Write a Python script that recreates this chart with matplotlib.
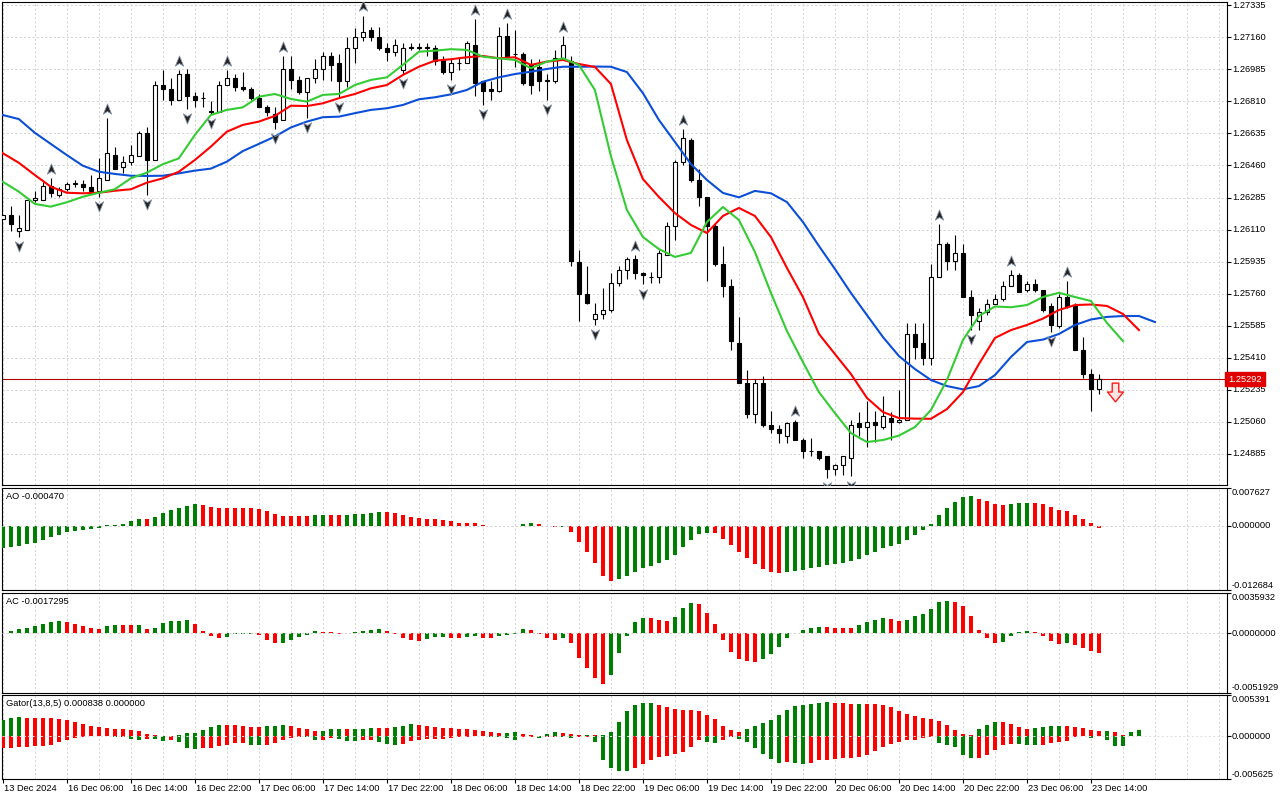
import numpy as np
import matplotlib
matplotlib.use("Agg")
import matplotlib.pyplot as plt
from matplotlib.path import Path

plt.rcParams['font.family'] = ['Liberation Sans', 'DejaVu Sans']

# H1 candles, bar 0 = 13 Dec 22:00 ... bar 137 = 23 Dec 15:00
opens = [
    1.2617, 1.2619, 1.2610, 1.2611, 1.2627, 1.2627, 1.2635, 1.2630, 1.2633, 1.2636,
    1.2636, 1.2634, 1.2632, 1.2638, 1.2652, 1.2645, 1.2648, 1.2651, 1.2664, 1.2649,
    1.2690, 1.2688, 1.2682, 1.2696, 1.2684, 1.2683, 1.2676, 1.2675, 1.2690, 1.2694,
    1.2689, 1.2688, 1.2683, 1.2678, 1.2674, 1.2671, 1.2699, 1.2693, 1.2686, 1.2694,
    1.2699, 1.2706, 1.2702, 1.2692, 1.2710, 1.2716, 1.2720, 1.2716, 1.2710, 1.2708,
    1.2698, 1.2711, 1.2710, 1.2711, 1.2710, 1.2704, 1.2697, 1.2702, 1.2702, 1.2712,
    1.2692, 1.2688, 1.2687, 1.2717, 1.2707, 1.2707, 1.2701, 1.2700, 1.2692, 1.2692,
    1.2705, 1.2703, 1.2593, 1.2576, 1.2562, 1.2565, 1.2567, 1.2582, 1.2589, 1.2595,
    1.2587, 1.2585, 1.2585, 1.2597, 1.2613, 1.2648, 1.2660, 1.2638, 1.2629, 1.2613,
    1.2592, 1.2580, 1.2549, 1.2527, 1.2510, 1.2527, 1.2504, 1.2502, 1.2498, 1.2506,
    1.2496, 1.2490, 1.2490, 1.2487, 1.2480, 1.2482, 1.2486, 1.2505, 1.2503, 1.2506,
    1.2503, 1.2508, 1.2506, 1.2507, 1.2554, 1.2549, 1.2541, 1.2585, 1.2603, 1.2594,
    1.2598, 1.2574, 1.2561, 1.2566, 1.2570, 1.2573, 1.2580, 1.2586, 1.2578, 1.2581,
    1.2578, 1.2569, 1.2558, 1.2574, 1.2569, 1.2545, 1.2532, 1.2524]
highs = [
    1.2619, 1.2624, 1.2619, 1.2627, 1.2632, 1.2637, 1.2639, 1.2634, 1.2637, 1.2638,
    1.2638, 1.2641, 1.2650, 1.2672, 1.2656, 1.2651, 1.2657, 1.2665, 1.2667, 1.2692,
    1.2698, 1.2694, 1.2698, 1.2699, 1.2686, 1.2686, 1.2681, 1.2692, 1.2698, 1.2696,
    1.2697, 1.2689, 1.2685, 1.2679, 1.2678, 1.2706, 1.2706, 1.2695, 1.2694, 1.2704,
    1.2708, 1.2708, 1.2707, 1.2716, 1.2721, 1.2728, 1.2722, 1.2722, 1.2713, 1.2715,
    1.2713, 1.2713, 1.2713, 1.2713, 1.2712, 1.2706, 1.2704, 1.2705, 1.2714, 1.2726,
    1.2692, 1.2692, 1.2722, 1.2724, 1.2720, 1.2708, 1.2704, 1.2704, 1.2696, 1.2709,
    1.2717, 1.2706, 1.2600, 1.2591, 1.2571, 1.2579, 1.2587, 1.2591, 1.2596, 1.2597,
    1.2588, 1.2588, 1.2600, 1.2615, 1.2649, 1.2666, 1.2661, 1.2644, 1.2629, 1.2614,
    1.2602, 1.2584, 1.2563, 1.2534, 1.2529, 1.2531, 1.2512, 1.2504, 1.2506, 1.2507,
    1.2497, 1.2497, 1.2490, 1.2487, 1.2483, 1.2487, 1.2507, 1.2511, 1.2517, 1.2512,
    1.2520, 1.2511, 1.2523, 1.2560, 1.2560, 1.2560, 1.2592, 1.2614, 1.2604, 1.2608,
    1.2603, 1.2578, 1.2568, 1.2573, 1.2576, 1.2583, 1.2589, 1.2587, 1.2583, 1.2584,
    1.2578, 1.2571, 1.2576, 1.2583, 1.2571, 1.2552, 1.2535, 1.2532]
lows = [
    1.2617, 1.2610, 1.2607, 1.2611, 1.2626, 1.2627, 1.2629, 1.2629, 1.2632, 1.2634,
    1.2632, 1.2632, 1.2629, 1.2638, 1.2644, 1.2642, 1.2646, 1.2651, 1.2630, 1.2649,
    1.2682, 1.2679, 1.2682, 1.2677, 1.2678, 1.2678, 1.2674, 1.2675, 1.2690, 1.2687,
    1.2687, 1.2682, 1.2678, 1.2673, 1.2666, 1.2671, 1.2688, 1.2685, 1.2672, 1.2691,
    1.2693, 1.2692, 1.2683, 1.2689, 1.2702, 1.2714, 1.2714, 1.2709, 1.2703, 1.2706,
    1.2696, 1.2709, 1.2709, 1.2706, 1.2701, 1.2696, 1.2693, 1.2698, 1.2702, 1.2684,
    1.2679, 1.2682, 1.2686, 1.2706, 1.2700, 1.2690, 1.2685, 1.2687, 1.2682, 1.2691,
    1.2704, 1.2591, 1.2561, 1.2570, 1.2559, 1.2562, 1.2566, 1.2580, 1.2584, 1.2584,
    1.2581, 1.2582, 1.2582, 1.2597, 1.2605, 1.2646, 1.2637, 1.2624, 1.2583, 1.2591,
    1.2574, 1.2545, 1.2527, 1.2508, 1.2505, 1.2503, 1.2500, 1.2494, 1.2494, 1.2496,
    1.2486, 1.2487, 1.2485, 1.2475, 1.2477, 1.2477, 1.2476, 1.2498, 1.2492, 1.2495,
    1.2502, 1.2496, 1.2505, 1.2507, 1.2540, 1.2537, 1.2537, 1.2585, 1.2589, 1.2589,
    1.2574, 1.2556, 1.2556, 1.2564, 1.2570, 1.2572, 1.2580, 1.2577, 1.2577, 1.2577,
    1.2566, 1.2555, 1.2557, 1.2568, 1.2545, 1.2530, 1.2512, 1.2521]
closes = [
    1.2619, 1.2614, 1.2612, 1.2627, 1.2628, 1.2635, 1.2631, 1.2633, 1.2636, 1.26365,
    1.2634, 1.2632, 1.2639, 1.2653, 1.2644, 1.2648, 1.2652, 1.2664, 1.2649, 1.2690,
    1.2688, 1.2682, 1.2696, 1.2684, 1.2682, 1.2683, 1.2675, 1.2690, 1.2694, 1.2689,
    1.2688, 1.2683, 1.2678, 1.2675, 1.2670, 1.2699, 1.2693, 1.2686, 1.2694, 1.2699,
    1.2706, 1.2701, 1.2692, 1.2710, 1.2716, 1.2719, 1.2716, 1.2710, 1.2708, 1.2712,
    1.2710, 1.2710, 1.2711, 1.2710, 1.2703, 1.2697, 1.2702, 1.2702, 1.2713, 1.2691,
    1.2687, 1.2687, 1.2717, 1.2706, 1.2707, 1.2691, 1.2690, 1.2692, 1.2693, 1.2705,
    1.2712, 1.2594, 1.2576, 1.2571, 1.2565, 1.2567, 1.2582, 1.2589, 1.2595, 1.2587,
    1.2586, 1.2585, 1.2598, 1.2613, 1.2648, 1.2661, 1.2638, 1.2629, 1.2613, 1.2592,
    1.2580, 1.2550, 1.2527, 1.2510, 1.2527, 1.2504, 1.2502, 1.2500, 1.2505, 1.2496,
    1.2490, 1.2490, 1.2486, 1.2480, 1.2482, 1.2487, 1.2504, 1.2503, 1.2506, 1.2504,
    1.2509, 1.2506, 1.2507, 1.2554, 1.2547, 1.2541, 1.2585, 1.2603, 1.2594, 1.2598,
    1.2574, 1.2564, 1.2566, 1.2570, 1.2573, 1.2580, 1.2586, 1.2577, 1.2581, 1.2578,
    1.2567, 1.2559, 1.2574, 1.2569, 1.2545, 1.2532, 1.2524, 1.25292]

# alligator lines (shifted, as drawn), read every second bar
line_bars = list(range(0, 146, 2))
jaw = [
    1.26736, 1.26714, 1.26639, 1.26578, 1.26517, 1.26459, 1.26426, 1.26414, 1.26404, 1.26403,
    1.26404, 1.26417, 1.26432, 1.26443, 1.26481, 1.26539, 1.26578, 1.26618, 1.26668, 1.26700,
    1.26724, 1.26727, 1.26746, 1.26764, 1.26773, 1.26791, 1.26822, 1.26833, 1.26849, 1.26873,
    1.26918, 1.26942, 1.26960, 1.26973, 1.26988, 1.27000, 1.27000, 1.27001, 1.27000, 1.26971,
    1.26856, 1.26709, 1.26589, 1.26468, 1.26381, 1.26310, 1.26286, 1.26321, 1.26308, 1.26260,
    1.26151, 1.26020, 1.25894, 1.25763, 1.25642, 1.25522, 1.25418, 1.25347, 1.25287, 1.25254,
    1.25236, 1.25254, 1.25314, 1.25413, 1.25495, 1.25508, 1.25539, 1.25588, 1.25618, 1.25632,
    1.25637, 1.25637, 1.25604]
teeth = [
    1.26527, 1.26475, 1.26408, 1.26344, 1.26311, 1.26308, 1.26311, 1.26322, 1.26330, 1.26366,
    1.26390, 1.26426, 1.26490, 1.26563, 1.26645, 1.26682, 1.26700, 1.26731, 1.26787, 1.26785,
    1.26800, 1.26828, 1.26851, 1.26882, 1.26900, 1.26955, 1.27000, 1.27033, 1.27041, 1.27052,
    1.27059, 1.27046, 1.27052, 1.27010, 1.27028, 1.27037, 1.27015, 1.26999, 1.26906, 1.26599,
    1.26386, 1.26288, 1.26200, 1.26135, 1.26091, 1.26184, 1.26228, 1.26184, 1.26069, 1.25900,
    1.25741, 1.25539, 1.25429, 1.25320, 1.25189, 1.25112, 1.25079, 1.25076, 1.25075, 1.25128,
    1.25221, 1.25375, 1.25517, 1.25560, 1.25588, 1.25623, 1.25670, 1.25697, 1.25700, 1.25692,
    1.25648, 1.25560, np.nan]
lips = [
    1.26371, 1.26317, 1.26250, 1.26235, 1.26259, 1.26289, 1.26311, 1.26330, 1.26390, 1.26421,
    1.26467, 1.26499, 1.26627, 1.26736, 1.26764, 1.26778, 1.26836, 1.26851, 1.26824, 1.26809,
    1.26846, 1.26851, 1.26900, 1.26928, 1.26942, 1.27010, 1.27082, 1.27088, 1.27096, 1.27092,
    1.27055, 1.27046, 1.27037, 1.26992, 1.27028, 1.27046, 1.27010, 1.26873, 1.26512, 1.26217,
    1.26069, 1.26003, 1.25960, 1.25982, 1.26151, 1.26233, 1.26162, 1.25987, 1.25763, 1.25555,
    1.25385, 1.25221, 1.25106, 1.24997, 1.24948, 1.24959, 1.24983, 1.25030, 1.25123, 1.25287,
    1.25506, 1.25637, 1.25689, 1.25685, 1.25697, 1.25741, 1.25764, 1.25741, 1.25719, 1.25599,
    1.25500, np.nan, np.nan]

up_fractals = [6, 13, 22, 28, 35, 45, 59, 63, 70, 79, 85, 99, 117, 126, 133]
down_fractals = [2, 12, 18, 23, 26, 34, 38, 42, 50, 56, 60, 68, 74, 80, 103, 106, 121, 131]
signal_bar, signal_price = 139, 1.2522
last_price = 1.25292

# indicator values in units of 1e-4
ao_x1e4 = [
    -43.2, -41.8, -39.8, -36.5, -33.2, -27.2, -21.9, -17.3, -12.0, -9.3,
    -7.3, -6.0, -3.3, 1.0, 2.7, 4.6, 9.3, 14.6, 13.9, 17.9,
    25.9, 32.5, 35.9, 39.8, 44.5, 42.5, 37.8, 35.9, 35.5, 35.2,
    35.0, 34.8, 33.9, 29.9, 24.6, 19.9, 19.8, 19.7, 19.5, 21.9,
    22.0, 21.9, 21.8, 22.0, 23.9, 24.1, 26.6, 27.9, 27.8, 25.9,
    21.9, 17.9, 15.9, 13.9, 13.8, 12.0, 10.0, 6.0, 5.9, 5.7,
    2.0, -0.3, 0.3, 0.7, 0.8, 4.0, 6.0, 4.0, 0.7, -2.0,
    -1.3, -12.0, -31.9, -51.8, -73.7, -99.6, -109.6, -105.6, -99.6, -91.6,
    -83.7, -79.7, -73.7, -67.7, -57.8, -41.8, -27.9, -15.9, -13.9, -14.3,
    -25.9, -37.8, -51.8, -63.7, -75.7, -85.7, -91.6, -93.6, -91.6, -89.6,
    -87.6, -83.7, -81.7, -77.7, -75.7, -73.7, -69.7, -65.7, -57.8, -51.8,
    -43.8, -39.8, -35.9, -27.9, -17.9, -8.0, 4.0, 21.9, 35.9, 47.8,
    57.8, 59.8, 53.8, 49.8, 43.8, 41.8, 43.8, 45.8, 45.9, 45.8,
    43.8, 37.8, 31.9, 29.9, 21.9, 13.9, 6.0, -4.7]
ac_x1e4 = [
    0.6, 1.8, 3.8, 4.7, 6.4, 8.2, 9.7, 10.5, 10.4, 8.2,
    6.2, 4.4, 4.3, 6.4, 7.3, 7.2, 7.1, 7.3, 3.5, 4.7,
    9.1, 10.5, 10.6, 11.7, 8.2, 1.8, -2.3, -4.1, -2.9, -0.9,
    -0.6, -0.3, -1.5, -5.9, -8.5, -8.2, -5.9, -3.2, -1.5, 1.8,
    1.6, 0.9, -0.3, 0.0, 0.9, 1.8, 2.6, 3.5, 1.8, -0.3,
    -4.1, -5.9, -6.7, -5.0, -3.2, -3.1, -4.1, -4.2, -3.2, -2.3,
    -4.1, -4.2, -2.3, -1.5, -0.3, 3.5, 3.4, -0.3, -4.1, -5.9,
    -4.1, -8.5, -21.7, -30.5, -39.3, -44.5, -36.6, -17.3, -2.1, 9.7,
    13.2, 13.1, 11.4, 11.3, 14.1, 22.0, 26.4, 25.5, 17.6, 7.9,
    -5.9, -16.4, -22.6, -24.3, -25.2, -22.6, -18.2, -12.0, -4.1, 0.6,
    2.6, 4.4, 5.3, 5.2, 5.1, 5.0, 4.9, 7.0, 9.7, 11.4,
    13.2, 12.3, 10.5, 11.4, 14.9, 16.7, 21.1, 27.2, 28.1, 27.2,
    23.7, 14.9, 2.6, -4.1, -8.5, -7.6, -2.3, 0.9, 1.8, 0.9,
    -2.3, -6.7, -9.4, -8.5, -10.3, -12.9, -15.5, -17.295]
gator_up_x1e4 = [
    21.4, 24.0, 25.3, 24.0, 23.9, 23.8, 23.7, 22.7, 21.4, 18.8,
    16.2, 13.5, 12.2, 10.9, 9.6, 9.5, 8.3, 7.0, 3.1, 1.7,
    0.4, 0.3, 1.3, 3.9, 4.0, 8.3, 12.2, 14.9, 14.8, 14.7,
    13.5, 12.2, 12.1, 13.5, 13.6, 14.9, 13.5, 10.9, 9.6, 7.0,
    7.1, 9.6, 9.7, 9.6, 9.7, 9.8, 10.9, 10.8, 10.7, 12.2,
    13.5, 16.2, 14.9, 13.5, 12.2, 10.9, 10.8, 9.6, 9.5, 8.3,
    7.0, 5.7, 4.4, 4.5, 5.7, 3.1, 1.3, 0.4, 3.1, 5.7,
    4.4, 3.1, 1.7, 1.8, 0.9, 1.7, 5.7, 18.8, 33.2, 41.1,
    43.7, 43.8, 41.1, 38.5, 35.8, 34.5, 34.4, 33.2, 28.0, 22.7,
    13.5, 8.3, 5.7, 9.6, 13.5, 17.5, 21.4, 28.0, 34.5, 39.8,
    41.1, 42.4, 43.7, 45.0, 43.7, 43.6, 42.4, 42.5, 42.4, 42.3,
    41.1, 38.5, 33.2, 29.3, 26.7, 24.0, 22.7, 20.1, 14.9, 8.3,
    3.1, 1.7, 9.6, 14.9, 18.8, 18.7, 16.2, 12.2, 9.6, 10.9,
    12.2, 13.5, 13.6, 13.5, 12.2, 10.9, 8.3, 7.0, 7.1, 5.7,
    1.7, 5.7, 8.38]
gator_down_x1e4 = [
    15.3, 15.2, 14.4, 14.3, 13.5, 12.7, 11.8, 7.9, 4.8, 3.1,
    1.3, 0.4, 0.5, 0.2, 1.7, 0.9, 4.4, 5.7, 3.9, 4.4,
    7.0, 5.7, 8.3, 16.2, 17.0, 15.7, 15.6, 13.1, 11.8, 9.2,
    9.1, 11.4, 11.5, 11.3, 9.2, 5.2, 2.2, 1.3, 1.7, 5.2,
    5.1, 2.6, 3.9, 6.6, 6.7, 5.2, 5.1, 8.3, 10.9, 12.2,
    10.9, 7.0, 5.7, 4.4, 4.3, 4.2, 3.1, 1.3, 0.9, 0.4,
    0.3, 1.3, 1.4, 3.1, 5.7, 1.7, 1.6, 3.1, 1.7, 0.9,
    1.7, 3.1, 1.7, 1.3, 8.3, 31.9, 42.4, 46.3, 46.4, 42.4,
    37.1, 31.9, 28.0, 26.7, 24.0, 21.4, 14.9, 5.7, 8.3, 8.4,
    5.7, 1.3, 4.4, 8.3, 16.2, 24.0, 30.6, 35.8, 34.5, 35.8,
    37.1, 35.8, 31.9, 31.8, 30.6, 29.3, 29.2, 28.0, 25.3, 20.1,
    14.9, 10.9, 8.3, 5.7, 5.6, 3.1, 1.7, 9.6, 12.2, 14.9,
    25.3, 29.3, 29.2, 25.3, 18.8, 12.2, 10.9, 11.0, 11.1, 12.2,
    12.1, 9.6, 8.3, 7.0, 1.7, 0.4, 3.1, 0.4, 5.7, 13.1,
    13.5, 0.0, 0.0]

price_ticks = [1.27335, 1.27160, 1.26985, 1.26810, 1.26635, 1.26460, 1.26285, 1.26110,
               1.25935, 1.25760, 1.25585, 1.25410, 1.25235, 1.25060, 1.24885]
time_label_bars = list(range(0, 137, 8))
time_labels = ["13 Dec 2024", "16 Dec 06:00", "16 Dec 14:00", "16 Dec 22:00", "17 Dec 06:00",
               "17 Dec 14:00", "17 Dec 22:00", "18 Dec 06:00", "18 Dec 14:00", "18 Dec 22:00",
               "19 Dec 06:00", "19 Dec 14:00", "19 Dec 22:00", "20 Dec 06:00", "20 Dec 14:00",
               "20 Dec 22:00", "23 Dec 06:00", "23 Dec 14:00"]

GREEN = "#008000"
RED = "#ff0000"
GRID = "#d4d4d4"
DASH = (0, (2.2, 2.2))
FS = 6.7
W, H = 1280, 800


def panel(y_top, y_bottom):
    # axes box given as pixel rows of the 1280x800 picture
    return [2 / W, 1 - y_bottom / H, 1225 / W, (y_bottom - y_top) / H]


def trend_colors(values, first):
    cols = [first]
    for prev, cur in zip(values[:-1], values[1:]):
        cols.append(GREEN if cur > prev else RED)
    return cols


fig = plt.figure(figsize=(W / 100, H / 100), dpi=100)
ax_main = fig.add_axes(panel(2, 485))
ax_ao = fig.add_axes(panel(487.5, 590))
ax_ac = fig.add_axes(panel(592.5, 692.5))
ax_gator = fig.add_axes(panel(695, 779))
axes = [ax_main, ax_ao, ax_ac, ax_gator]

for ax in axes:
    ax.set_xlim(-0.1, 153.0)
    ax.set_facecolor("white")
    for sp in ax.spines.values():
        sp.set_linewidth(0.8)
        sp.set_color("black")
    for k in range(0, 156, 4):
        ax.axvline(k, color=GRID, lw=0.7, ls=DASH, zorder=0)
    ax.set_xticks([])
    ax.yaxis.set_ticks_position("right")
    ax.tick_params(axis="y", direction="out", length=3, width=0.8,
                   labelright=False, labelleft=False)


def right_label(ax, value, text, va="center"):
    ax.text(1.0040, value, text, transform=ax.get_yaxis_transform(),
            fontsize=FS, va=va, ha="left", clip_on=False)


# ---- main chart ----
ax_main.set_ylim(1.24713, 1.27354)
ax_main.set_yticks(price_ticks)
for p in price_ticks:
    ax_main.axhline(p, color=GRID, lw=0.7, ls=DASH, zorder=0)
    right_label(ax_main, p, f"{p:.5f}")

x = np.arange(len(opens))
o = np.array(opens)
h = np.array(highs)
l = np.array(lows)
c = np.array(closes)
bull = c >= o
ax_main.vlines(x, l, h, color="black", lw=0.8, zorder=3)
body_low = np.minimum(o, c)
body_h = np.abs(c - o)
ax_main.bar(x[bull], body_h[bull], bottom=body_low[bull], width=0.55,
            facecolor="white", edgecolor="black", linewidth=0.8, zorder=4)
ax_main.bar(x[~bull], body_h[~bull], bottom=body_low[~bull], width=0.55,
            facecolor="black", edgecolor="black", linewidth=0.8, zorder=4)

ax_main.plot(line_bars, jaw, color="#0b4fd8", lw=1.5, zorder=5)
ax_main.plot(line_bars, teeth, color="#ff0000", lw=1.5, zorder=5)
ax_main.plot(line_bars, lips, color="#33cc33", lw=1.5, zorder=5)

# fractal arrows
up_arrow = Path([(0, 1), (0.75, -0.85), (0, -0.35), (-0.75, -0.85), (0, 1)],
                [Path.MOVETO, Path.LINETO, Path.LINETO, Path.LINETO, Path.CLOSEPOLY])
down_arrow = Path([(0, -1), (0.75, 0.85), (0, 0.35), (-0.75, 0.85), (0, -1)],
                  [Path.MOVETO, Path.LINETO, Path.LINETO, Path.LINETO, Path.CLOSEPOLY])
gap = 0.0005
ax_main.plot(up_fractals, h[up_fractals] + gap, ls="none", marker=up_arrow, ms=8,
             mfc="#222222", mec="#8a96aa", mew=0.6, zorder=6)
ax_main.plot(down_fractals, l[down_fractals] - gap, ls="none", marker=down_arrow, ms=8,
             mfc="#222222", mec="#8a96aa", mew=0.6, zorder=6)

# sell signal arrow
block_down = Path([(-0.35, 1), (0.35, 1), (0.35, 0.05), (0.85, 0.05), (0, -1),
                   (-0.85, 0.05), (-0.35, 0.05), (-0.35, 1)],
                  [Path.MOVETO] + [Path.LINETO] * 6 + [Path.CLOSEPOLY])
ax_main.plot([signal_bar], [signal_price], ls="none", marker=block_down, ms=13.5,
             mfc="#ffe4e4", mec="#ff1a1a", mew=1.0, zorder=6)

# last price line + label
ax_main.axhline(last_price, color="#b00000", lw=0.8, zorder=2)
ax_main.text(1.0010, last_price, f"{last_price:.5f}", transform=ax_main.get_yaxis_transform(),
             fontsize=FS, color="white", va="center", ha="left", clip_on=False,
             bbox=dict(boxstyle="square,pad=0.3", fc="#e00000", ec="#e00000"))

# ---- AO ----
ao = np.array(ao_x1e4) * 1e-4
ax_ao.set_ylim(-0.012684, 0.007627)
ax_ao.bar(np.arange(len(ao)), ao, width=0.55, color=trend_colors(ao, GREEN), linewidth=0, zorder=3)
ax_ao.axhline(0, color=GRID, lw=0.7, ls=DASH, zorder=4)
ax_ao.set_yticks([-0.012684, 0.0, 0.007627])
right_label(ax_ao, 0.007627, "0.007627", va="top")
right_label(ax_ao, 0.0, "0.000000")
right_label(ax_ao, -0.012684, "-0.012684", va="bottom")
ax_ao.text(0.003, 0.91, "AO -0.000470", transform=ax_ao.transAxes, fontsize=FS, va="center")

# ---- AC ----
ac = np.array(ac_x1e4) * 1e-4
ax_ac.set_ylim(-0.0051929, 0.0035932)
ax_ac.bar(np.arange(len(ac)), ac, width=0.55, color=trend_colors(ac, GREEN), linewidth=0, zorder=3)
ax_ac.axhline(0, color=GRID, lw=0.7, ls=DASH, zorder=4)
ax_ac.set_yticks([-0.0051929, 0.0, 0.0035932])
right_label(ax_ac, 0.0035932, "0.0035932", va="top")
right_label(ax_ac, 0.0, "0.0000000")
right_label(ax_ac, -0.0051929, "-0.0051929", va="bottom")
ax_ac.text(0.003, 0.91, "AC -0.0017295", transform=ax_ac.transAxes, fontsize=FS, va="center")

# ---- Gator ----
g_up = np.array(gator_up_x1e4) * 1e-4
g_dn = np.array(gator_down_x1e4) * 1e-4
gx = np.arange(len(g_up))
ax_gator.set_ylim(-0.005625, 0.005391)
ax_gator.bar(gx, g_up, width=0.55, color=trend_colors(g_up, GREEN), linewidth=0, zorder=3)
ax_gator.bar(gx, -g_dn, width=0.55, color=trend_colors(g_dn, RED), linewidth=0, zorder=3)
ax_gator.axhline(0, color="#e2e2e2", lw=0.7, ls=DASH, zorder=4)
ax_gator.set_yticks([-0.005625, 0.0, 0.005391])
right_label(ax_gator, 0.005391, "0.005391", va="top")
right_label(ax_gator, 0.0, "0.000000")
right_label(ax_gator, -0.005625, "-0.005625", va="bottom")
ax_gator.text(0.003, 0.895, "Gator(13,8,5) 0.000838 0.000000", transform=ax_gator.transAxes,
              fontsize=FS, va="center")

# time axis under the last panel
ax_gator.set_xticks(time_label_bars)
ax_gator.tick_params(axis="x", direction="out", length=3, width=0.8, labelbottom=False)
for k, lab in zip(time_label_bars, time_labels):
    ax_gator.text(k + 0.1, -0.11, lab, transform=ax_gator.get_xaxis_transform(),
                  fontsize=FS, ha="left", va="center", clip_on=False)

fig.savefig("out.png", dpi=100)
